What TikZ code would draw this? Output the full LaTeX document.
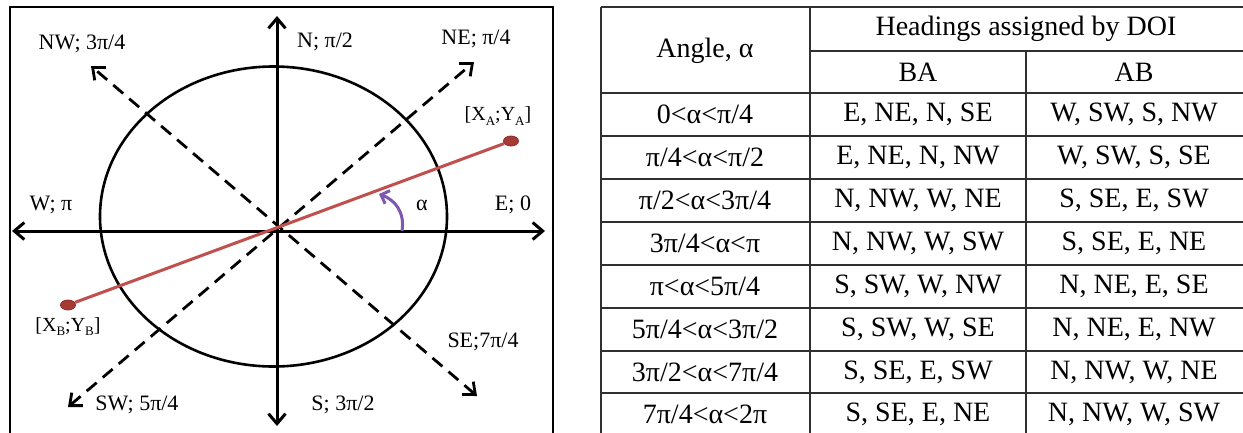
\documentclass[tikz,border=0pt]{standalone}
\usepackage{fontspec}
\setmainfont{Liberation Serif}
\usetikzlibrary{arrows.meta,shapes.geometric}
\definecolor{redline}{HTML}{C0504D}
\definecolor{reddot}{HTML}{A83A36}
\definecolor{purplearc}{HTML}{7E57B0}
\definecolor{tblline}{HTML}{303030}
\newcommand{\lowsub}[1]{\raisebox{-0.45ex}{\fontsize{13}{13}\selectfont #1}}
\tikzset{
  axis/.style={line width=3pt, {Straight Barb[length=10pt,width=17pt]}-{Straight Barb[length=10pt,width=17pt]}},
  diag/.style={line width=2.8pt, dash pattern=on 13pt off 8pt, {Straight Barb[length=10pt,width=17pt]}-{Straight Barb[length=10pt,width=17pt]}},
  lbl/.style={font=\fontsize{22}{24}\selectfont, inner sep=0pt},
  ptlbl/.style={font=\fontsize{20}{22}\selectfont, inner sep=0pt},
  cell/.style={font=\fontsize{28}{30}\selectfont, inner sep=0pt},
  tline/.style={line width=1.3pt, draw=tblline},
  enddot/.style={ellipse, minimum width=15pt, minimum height=10pt, inner sep=0pt, fill=reddot, draw=reddot!80!black, line width=0.8pt}
}
\begin{document}
\begin{tikzpicture}[x=1pt,y=-1pt]
\useasboundingbox (0,0) rectangle (1243,432);
\fill[white] (0,0) rectangle (1243,432);
% frame
\draw[line width=1.5pt] (10,7) rectangle (553,445);
% coordinates
\coordinate (O) at (277,231);
\coordinate (Etip) at (545,231);
\coordinate (Wtip) at (12,231);
\coordinate (Ntip) at (277,16);
\coordinate (Stip) at (277,426);
\coordinate (NEtip) at (474,62);
\coordinate (SWtip) at (68,407);
\coordinate (NWtip) at (91,66);
\coordinate (SEtip) at (477,396);
% ellipse
\draw[line width=2.6pt] (273.5,216.5) ellipse [x radius=173.5, y radius=150];
% axes
\draw[axis] (Wtip) -- (Etip);
\draw[axis] (Stip) -- (Ntip);
% diagonals
\draw[diag] (SWtip) -- (NEtip);
\draw[diag] (SEtip) -- (NWtip);
% red segment
\node[enddot] (B) at (68,305) {};
\node[enddot] (A) at (511,141) {};
\draw[redline, line width=3pt] (B) -- (A);
% alpha arc
\coordinate (arcS) at (402,231);
\coordinate (arcE) at (379,194);
\draw[purplearc, line width=3pt, -{Straight Barb[length=7pt,width=14pt]}] (arcS) .. controls (405,212) and (395,200) .. (arcE);
% labels
\node[lbl] (lNW) at (82,44) {NW; 3π/4};
\node[lbl] (lN) at (325,42) {N; π/2};
\node[lbl] (lNE) at (476,39) {NE; π/4};
\node[lbl] (lW) at (51,205) {W; π};
\node[lbl] (lE) at (513,205) {E; 0};
\node[lbl] (lSE) at (483,342) {SE;7π/4};
\node[lbl] (lSW) at (137,405) {SW; 5π/4};
\node[lbl] (lS) at (343,405) {S; 3π/2};
\node[lbl] (lal) at (422,205) {α};
\node[ptlbl] (lA) at (498,116) {[X\lowsub{A};Y\lowsub{A}]};
\node[ptlbl] (lB) at (68,327) {[X\lowsub{B};Y\lowsub{B}]};
% table lines
\draw[tline] (601,7) -- (1250,7);
\draw[tline] (810,51) -- (1250,51);
\foreach \yy in {93,136,179,222,265,308,351,393}{
  \draw[tline] (601,\yy) -- (1250,\yy);
}
\draw[tline] (601,7) -- (601,445);
\draw[tline] (810,7) -- (810,445);
\draw[tline] (1026,51) -- (1026,445);
% header
\node[cell] (hA) at (705,51) {Angle, α};
\node[cell] (hH) at (1026,29) {Headings assigned by DOI};
\node[cell] (hBA) at (918,72) {BA};
\node[cell] (hAB) at (1134,72) {AB};
% rows
\foreach \yc/\ang/\ba/\ab [count=\i] in {
  114.5/0<α<π\slash 4/{E, NE, N, SE}/{W, SW, S, NW},
  157.5/π\slash 4<α<π\slash 2/{E, NE, N, NW}/{W, SW, S, SE},
  200.5/π\slash 2<α<3π\slash 4/{N, NW, W, NE}/{S, SE, E, SW},
  243.5/3π\slash 4<α<π/{N, NW, W, SW}/{S, SE, E, NE},
  286.5/π<α<5π\slash 4/{S, SW, W, NW}/{N, NE, E, SE},
  329.5/5π\slash 4<α<3π\slash 2/{S, SW, W, SE}/{N, NE, E, NW},
  372/3π\slash 2<α<7π\slash 4/{S, SE, E, SW}/{N, NW, W, NE},
  414.5/7π\slash 4<α<2π/{S, SE, E, NE}/{N, NW, W, SW}}{
  \node[cell] (r\i a) at (705,\yc) {\ang};
  \node[cell] (r\i b) at (918,\yc) {\ba};
  \node[cell] (r\i c) at (1134,\yc) {\ab};
}
\end{tikzpicture}
\end{document}
